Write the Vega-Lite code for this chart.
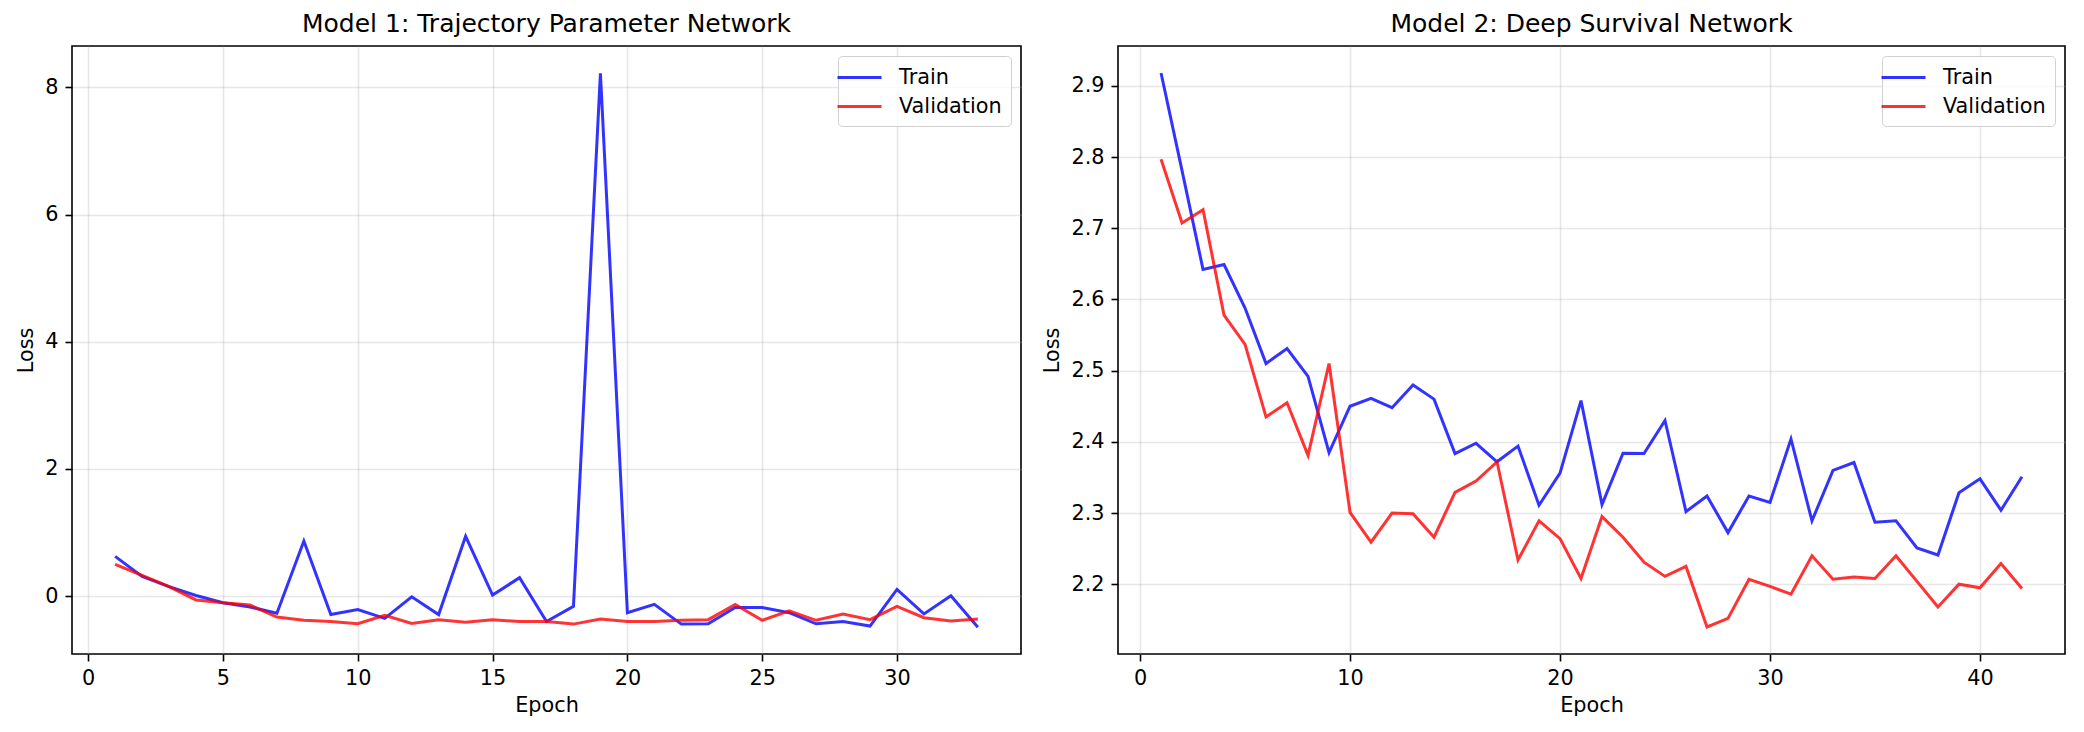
{
  "$schema": "https://vega.github.io/schema/vega-lite/v6.json",
  "background": "white",
  "padding": {"left": 14, "top": 11, "right": 23, "bottom": 10},
  "spacing": 19,
  "datasets": {
    "m1": [
      {"epoch": 1, "series": "Train", "loss": 0.625}, {"epoch": 2, "series": "Train", "loss": 0.31}, {"epoch": 3, "series": "Train", "loss": 0.15}, {"epoch": 4, "series": "Train", "loss": 0.01}, {"epoch": 5, "series": "Train", "loss": -0.105}, {"epoch": 6, "series": "Train", "loss": -0.17}, {"epoch": 7, "series": "Train", "loss": -0.27}, {"epoch": 8, "series": "Train", "loss": 0.866}, {"epoch": 9, "series": "Train", "loss": -0.29}, {"epoch": 10, "series": "Train", "loss": -0.21}, {"epoch": 11, "series": "Train", "loss": -0.35}, {"epoch": 12, "series": "Train", "loss": -0.01}, {"epoch": 13, "series": "Train", "loss": -0.29}, {"epoch": 14, "series": "Train", "loss": 0.94}, {"epoch": 15, "series": "Train", "loss": 0.016}, {"epoch": 16, "series": "Train", "loss": 0.29}, {"epoch": 17, "series": "Train", "loss": -0.40}, {"epoch": 18, "series": "Train", "loss": -0.16}, {"epoch": 19, "series": "Train", "loss": 8.22}, {"epoch": 20, "series": "Train", "loss": -0.26}, {"epoch": 21, "series": "Train", "loss": -0.13}, {"epoch": 22, "series": "Train", "loss": -0.44}, {"epoch": 23, "series": "Train", "loss": -0.435}, {"epoch": 24, "series": "Train", "loss": -0.18}, {"epoch": 25, "series": "Train", "loss": -0.18}, {"epoch": 26, "series": "Train", "loss": -0.26}, {"epoch": 27, "series": "Train", "loss": -0.435}, {"epoch": 28, "series": "Train", "loss": -0.40}, {"epoch": 29, "series": "Train", "loss": -0.47}, {"epoch": 30, "series": "Train", "loss": 0.105}, {"epoch": 31, "series": "Train", "loss": -0.28}, {"epoch": 32, "series": "Train", "loss": 0.005}, {"epoch": 33, "series": "Train", "loss": -0.49},
      {"epoch": 1, "series": "Validation", "loss": 0.50}, {"epoch": 2, "series": "Validation", "loss": 0.325}, {"epoch": 3, "series": "Validation", "loss": 0.15}, {"epoch": 4, "series": "Validation", "loss": -0.06}, {"epoch": 5, "series": "Validation", "loss": -0.105}, {"epoch": 6, "series": "Validation", "loss": -0.14}, {"epoch": 7, "series": "Validation", "loss": -0.33}, {"epoch": 8, "series": "Validation", "loss": -0.38}, {"epoch": 9, "series": "Validation", "loss": -0.40}, {"epoch": 10, "series": "Validation", "loss": -0.435}, {"epoch": 11, "series": "Validation", "loss": -0.30}, {"epoch": 12, "series": "Validation", "loss": -0.43}, {"epoch": 13, "series": "Validation", "loss": -0.37}, {"epoch": 14, "series": "Validation", "loss": -0.41}, {"epoch": 15, "series": "Validation", "loss": -0.37}, {"epoch": 16, "series": "Validation", "loss": -0.40}, {"epoch": 17, "series": "Validation", "loss": -0.40}, {"epoch": 18, "series": "Validation", "loss": -0.44}, {"epoch": 19, "series": "Validation", "loss": -0.36}, {"epoch": 20, "series": "Validation", "loss": -0.40}, {"epoch": 21, "series": "Validation", "loss": -0.40}, {"epoch": 22, "series": "Validation", "loss": -0.38}, {"epoch": 23, "series": "Validation", "loss": -0.37}, {"epoch": 24, "series": "Validation", "loss": -0.13}, {"epoch": 25, "series": "Validation", "loss": -0.38}, {"epoch": 26, "series": "Validation", "loss": -0.23}, {"epoch": 27, "series": "Validation", "loss": -0.38}, {"epoch": 28, "series": "Validation", "loss": -0.28}, {"epoch": 29, "series": "Validation", "loss": -0.37}, {"epoch": 30, "series": "Validation", "loss": -0.16}, {"epoch": 31, "series": "Validation", "loss": -0.34}, {"epoch": 32, "series": "Validation", "loss": -0.39}, {"epoch": 33, "series": "Validation", "loss": -0.36}
    ],
    "m2": [
      {"epoch": 1, "series": "Train", "loss": 2.918}, {"epoch": 2, "series": "Train", "loss": 2.781}, {"epoch": 3, "series": "Train", "loss": 2.642}, {"epoch": 4, "series": "Train", "loss": 2.649}, {"epoch": 5, "series": "Train", "loss": 2.588}, {"epoch": 6, "series": "Train", "loss": 2.51}, {"epoch": 7, "series": "Train", "loss": 2.531}, {"epoch": 8, "series": "Train", "loss": 2.492}, {"epoch": 9, "series": "Train", "loss": 2.385}, {"epoch": 10, "series": "Train", "loss": 2.45}, {"epoch": 11, "series": "Train", "loss": 2.461}, {"epoch": 12, "series": "Train", "loss": 2.448}, {"epoch": 13, "series": "Train", "loss": 2.48}, {"epoch": 14, "series": "Train", "loss": 2.46}, {"epoch": 15, "series": "Train", "loss": 2.3835}, {"epoch": 16, "series": "Train", "loss": 2.398}, {"epoch": 17, "series": "Train", "loss": 2.372}, {"epoch": 18, "series": "Train", "loss": 2.394}, {"epoch": 19, "series": "Train", "loss": 2.311}, {"epoch": 20, "series": "Train", "loss": 2.356}, {"epoch": 21, "series": "Train", "loss": 2.458}, {"epoch": 22, "series": "Train", "loss": 2.312}, {"epoch": 23, "series": "Train", "loss": 2.384}, {"epoch": 24, "series": "Train", "loss": 2.3835}, {"epoch": 25, "series": "Train", "loss": 2.43}, {"epoch": 26, "series": "Train", "loss": 2.302}, {"epoch": 27, "series": "Train", "loss": 2.324}, {"epoch": 28, "series": "Train", "loss": 2.2725}, {"epoch": 29, "series": "Train", "loss": 2.324}, {"epoch": 30, "series": "Train", "loss": 2.315}, {"epoch": 31, "series": "Train", "loss": 2.404}, {"epoch": 32, "series": "Train", "loss": 2.289}, {"epoch": 33, "series": "Train", "loss": 2.36}, {"epoch": 34, "series": "Train", "loss": 2.371}, {"epoch": 35, "series": "Train", "loss": 2.287}, {"epoch": 36, "series": "Train", "loss": 2.289}, {"epoch": 37, "series": "Train", "loss": 2.251}, {"epoch": 38, "series": "Train", "loss": 2.241}, {"epoch": 39, "series": "Train", "loss": 2.3285}, {"epoch": 40, "series": "Train", "loss": 2.348}, {"epoch": 41, "series": "Train", "loss": 2.304}, {"epoch": 42, "series": "Train", "loss": 2.351},
      {"epoch": 1, "series": "Validation", "loss": 2.797}, {"epoch": 2, "series": "Validation", "loss": 2.7075}, {"epoch": 3, "series": "Validation", "loss": 2.726}, {"epoch": 4, "series": "Validation", "loss": 2.578}, {"epoch": 5, "series": "Validation", "loss": 2.537}, {"epoch": 6, "series": "Validation", "loss": 2.435}, {"epoch": 7, "series": "Validation", "loss": 2.455}, {"epoch": 8, "series": "Validation", "loss": 2.381}, {"epoch": 9, "series": "Validation", "loss": 2.51}, {"epoch": 10, "series": "Validation", "loss": 2.301}, {"epoch": 11, "series": "Validation", "loss": 2.259}, {"epoch": 12, "series": "Validation", "loss": 2.3}, {"epoch": 13, "series": "Validation", "loss": 2.299}, {"epoch": 14, "series": "Validation", "loss": 2.266}, {"epoch": 15, "series": "Validation", "loss": 2.329}, {"epoch": 16, "series": "Validation", "loss": 2.345}, {"epoch": 17, "series": "Validation", "loss": 2.372}, {"epoch": 18, "series": "Validation", "loss": 2.234}, {"epoch": 19, "series": "Validation", "loss": 2.289}, {"epoch": 20, "series": "Validation", "loss": 2.264}, {"epoch": 21, "series": "Validation", "loss": 2.208}, {"epoch": 22, "series": "Validation", "loss": 2.295}, {"epoch": 23, "series": "Validation", "loss": 2.266}, {"epoch": 24, "series": "Validation", "loss": 2.231}, {"epoch": 25, "series": "Validation", "loss": 2.211}, {"epoch": 26, "series": "Validation", "loss": 2.225}, {"epoch": 27, "series": "Validation", "loss": 2.14}, {"epoch": 28, "series": "Validation", "loss": 2.152}, {"epoch": 29, "series": "Validation", "loss": 2.207}, {"epoch": 30, "series": "Validation", "loss": 2.197}, {"epoch": 31, "series": "Validation", "loss": 2.186}, {"epoch": 32, "series": "Validation", "loss": 2.24}, {"epoch": 33, "series": "Validation", "loss": 2.207}, {"epoch": 34, "series": "Validation", "loss": 2.21}, {"epoch": 35, "series": "Validation", "loss": 2.208}, {"epoch": 36, "series": "Validation", "loss": 2.24}, {"epoch": 37, "series": "Validation", "loss": 2.204}, {"epoch": 38, "series": "Validation", "loss": 2.168}, {"epoch": 39, "series": "Validation", "loss": 2.2}, {"epoch": 40, "series": "Validation", "loss": 2.195}, {"epoch": 41, "series": "Validation", "loss": 2.229}, {"epoch": 42, "series": "Validation", "loss": 2.194}
    ]
  },
  "hconcat": [
    {
      "width": 949,
      "height": 608,
      "title": "Model 1: Trajectory Parameter Network",
      "data": {"name": "m1"},
      "mark": {"type": "line", "strokeWidth": 3, "opacity": 0.8},
      "encoding": {
        "x": {"field": "epoch", "type": "quantitative", "title": "Epoch", "scale": {"domain": [-0.6, 34.6], "nice": false, "zero": false}, "axis": {"values": [0, 5, 10, 15, 20, 25, 30]}},
        "y": {"field": "loss", "type": "quantitative", "title": "Loss", "scale": {"domain": [-0.91, 8.65], "nice": false, "zero": false}, "axis": {"values": [0, 2, 4, 6, 8]}},
        "color": {"field": "series", "type": "nominal", "scale": {"domain": ["Train", "Validation"], "range": ["#0000ff", "#ff0000"]}, "legend": {"title": null}}
      }
    },
    {
      "width": 947,
      "height": 608,
      "title": "Model 2: Deep Survival Network",
      "data": {"name": "m2"},
      "mark": {"type": "line", "strokeWidth": 3, "opacity": 0.8},
      "encoding": {
        "x": {"field": "epoch", "type": "quantitative", "title": "Epoch", "scale": {"domain": [-1.05, 44.05], "nice": false, "zero": false}, "axis": {"values": [0, 10, 20, 30, 40]}},
        "y": {"field": "loss", "type": "quantitative", "title": "Loss", "scale": {"domain": [2.102, 2.956], "nice": false, "zero": false}, "axis": {"values": [2.2, 2.3, 2.4, 2.5, 2.6, 2.7, 2.8, 2.9], "format": ".1f"}},
        "color": {"field": "series", "type": "nominal", "scale": {"domain": ["Train", "Validation"], "range": ["#0000ff", "#ff0000"]}, "legend": {"title": null}}
      }
    }
  ],
  "resolve": {"scale": {"color": "independent"}, "legend": {"color": "independent"}},
  "config": {
    "font": "DejaVu Sans",
    "view": {"stroke": "black", "strokeWidth": 1.6},
    "title": {"fontSize": 25, "fontWeight": "normal", "color": "black", "offset": 9, "font": "DejaVu Sans"},
    "axis": {"domain": false, "grid": true, "gridColor": "#b0b0b0", "gridOpacity": 0.3, "gridWidth": 1.6, "tickColor": "black", "tickSize": 7, "tickWidth": 1.6, "labelFontSize": 20.8, "labelColor": "black", "labelPadding": 7, "titleFontSize": 20.8, "titleFontWeight": "normal", "titleColor": "black", "titlePadding": 8, "labelFlush": false, "labelFont": "DejaVu Sans", "titleFont": "DejaVu Sans"},
    "legend": {"orient": "top-right", "offset": 10, "strokeColor": "#d0d0d0", "fillColor": "rgba(255,255,255,0.8)", "cornerRadius": 4, "padding": 9, "symbolType": "M-2,0H2", "symbolSize": 484, "symbolStrokeWidth": 3, "symbolOpacity": 0.8, "labelFontSize": 20.8, "labelColor": "black", "labelFont": "DejaVu Sans", "rowPadding": 6, "labelOffset": 27}
  }
}
